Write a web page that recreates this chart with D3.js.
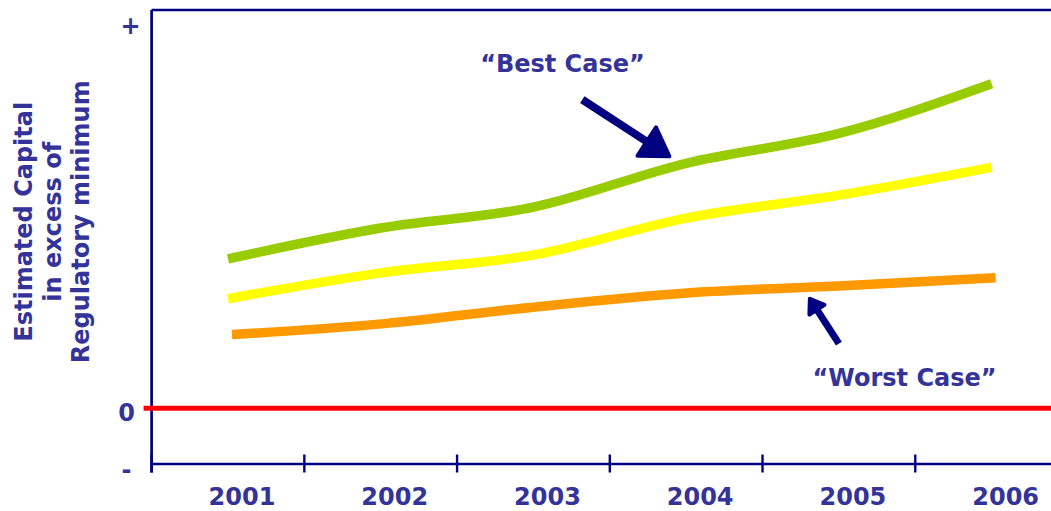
<!DOCTYPE html>
<html><head><meta charset="utf-8">
<script src="https://cdn.jsdelivr.net/npm/d3@7"></script>
<style>
html,body{margin:0;padding:0;background:#fff;}
svg{display:block;}
text{font-family:"DejaVu Sans", Verdana, sans-serif;font-weight:bold;fill:#333399;}
</style></head><body>
<svg id="chart" width="1051" height="511"></svg>
<script>
// ---- data ----
const years = ["2001","2002","2003","2004","2005","2006"];
const bestCase  = [1.50, 1.81, 2.02, 2.46, 2.76, 3.26];
const midCase   = [1.10, 1.36, 1.54, 1.91, 2.14, 2.42];
const worstCase = [0.74, 0.85, 1.02, 1.16, 1.23, 1.31];
const yTickValues = [3.88, 0, -0.58];
const yTickLabels = ["+", "0", "-"];
const yTitleLines = ["Estimated Capital", "in excess of", "Regulatory minimum"];
// annotation anchors in data space (fractional year index, value)
const labelNames = ["\u201cBest Case\u201d", "\u201cWorst Case\u201d"];
const labelIdx   = [2.19, 4.43];
const labelVal   = [3.38, 0.22];
const arrowTailIdx = [2.32, 4.00];
const arrowTailVal = [3.10, 0.65];
const arrowTipIdx  = [2.89, 3.81];
const arrowTipVal  = [2.53, 1.10];

// ---- layout ----
const W = 1051, H = 511;
const mLeft = 151.6, mTop = 10, mBottom = 463.5, mRight = 1068;
const svg = d3.select("#chart");

const x = d3.scaleBand().domain(years).range([mLeft, mRight]).padding(0);
const xc = d => x(d) + x.bandwidth() / 2;
const xi = i => xc(years[0]) + i * x.step();
const y = d3.scaleLinear().domain([-0.555, 4]).range([mBottom, mTop]);

const navy = "#000080";

// frame: top + left
svg.append("line").attr("x1", mLeft).attr("x2", mRight).attr("y1", y(4)).attr("y2", y(4))
  .attr("stroke", navy).attr("stroke-width", 2.7);
svg.append("line").attr("x1", mLeft).attr("x2", mLeft).attr("y1", y(4)).attr("y2", mBottom + 9)
  .attr("stroke", navy).attr("stroke-width", 2.7);

// x axis
const gx = svg.append("g").attr("transform", `translate(0,${mBottom})`)
  .call(d3.axisBottom(x).tickSize(0).tickPadding(24));
gx.select(".domain").attr("stroke", navy).attr("stroke-width", 2.7);
gx.selectAll(".tick text").attr("fill", "#333399").attr("dx", 14)
  .style("font-size", "24px").style("font-family", "DejaVu Sans, Verdana, sans-serif").style("font-weight", "bold");
gx.selectAll(".tickmark").data(years).enter().append("line")
  .attr("x1", d => x(d)).attr("x2", d => x(d)).attr("y1", -9).attr("y2", 9)
  .attr("stroke", navy).attr("stroke-width", 2.4);

// y tick labels
const gy = svg.append("g").attr("transform", `translate(${mLeft},0)`)
  .call(d3.axisLeft(y).tickValues(yTickValues).tickFormat((d, i) => yTickLabels[i]).tickSize(0).tickPadding(14));
gy.select(".domain").remove();
gy.selectAll(".tick text").attr("fill", "#333399").attr("text-anchor", "middle")
  .attr("x", (d, i) => i === 0 ? -21 : -25).attr("dy", "0.49em")
  .style("font-size", "24px").style("font-family", "DejaVu Sans, Verdana, sans-serif").style("font-weight", "bold");

// y title
const titleX = [32, 61, 89];
yTitleLines.forEach((t, i) => {
  svg.append("text").attr("transform", `translate(${titleX[i]},${(y(4)+y(-0.555))/2 - 15}) rotate(-90)`)
    .attr("text-anchor", "middle").style("font-size", "24px").text(t);
});

// zero line
svg.append("line").attr("x1", mLeft - 8).attr("x2", W).attr("y1", y(0)).attr("y2", y(0))
  .attr("stroke", "#FF0000").attr("stroke-width", 5);

// series lines
const line = d3.line().x((d, i) => xc(years[i])).y(d => y(d)).curve(d3.curveMonotoneX);
const series = [
  {vals: worstCase, color: "#FF9900", shift: 4},
  {vals: midCase,   color: "#FFFF00", shift: 0},
  {vals: bestCase,  color: "#99CC00", shift: 0}
];
series.forEach(s => {
  svg.append("path").attr("d", line(s.vals)).attr("fill", "none")
    .attr("stroke", s.color).attr("stroke-width", 9.5).attr("stroke-linecap", "butt")
    .attr("transform", `translate(${s.shift},0)`);
});

// annotations
labelNames.forEach((t, i) => {
  svg.append("text").attr("x", xi(labelIdx[i])).attr("y", y(labelVal[i]))
    .attr("text-anchor", "middle").style("font-size", "24px").text(t);
});
const heads = [{len: 27, wid: 34, shaft: 8}, {len: 13, wid: 18, shaft: 7}];
arrowTipIdx.forEach((_, i) => {
  const tx = xi(arrowTailIdx[i]), ty = y(arrowTailVal[i]);
  const hx = xi(arrowTipIdx[i]), hy = y(arrowTipVal[i]);
  const dx = hx - tx, dy = hy - ty, L = Math.hypot(dx, dy);
  const ux = dx / L, uy = dy / L, px = -uy, py = ux;
  const h = heads[i];
  const bx = hx - ux * h.len, by = hy - uy * h.len;
  svg.append("line").attr("x1", tx).attr("y1", ty).attr("x2", bx + ux * 3).attr("y2", by + uy * 3)
    .attr("stroke", navy).attr("stroke-width", h.shaft);
  const pts = [[hx, hy], [bx + px * h.wid / 2, by + py * h.wid / 2], [bx - px * h.wid / 2, by - py * h.wid / 2]];
  svg.append("polygon").attr("points", pts.map(p => p.join(",")).join(" "))
    .attr("fill", navy).attr("stroke", navy).attr("stroke-width", 4).attr("stroke-linejoin", "round");
});
</script>
</body></html>
